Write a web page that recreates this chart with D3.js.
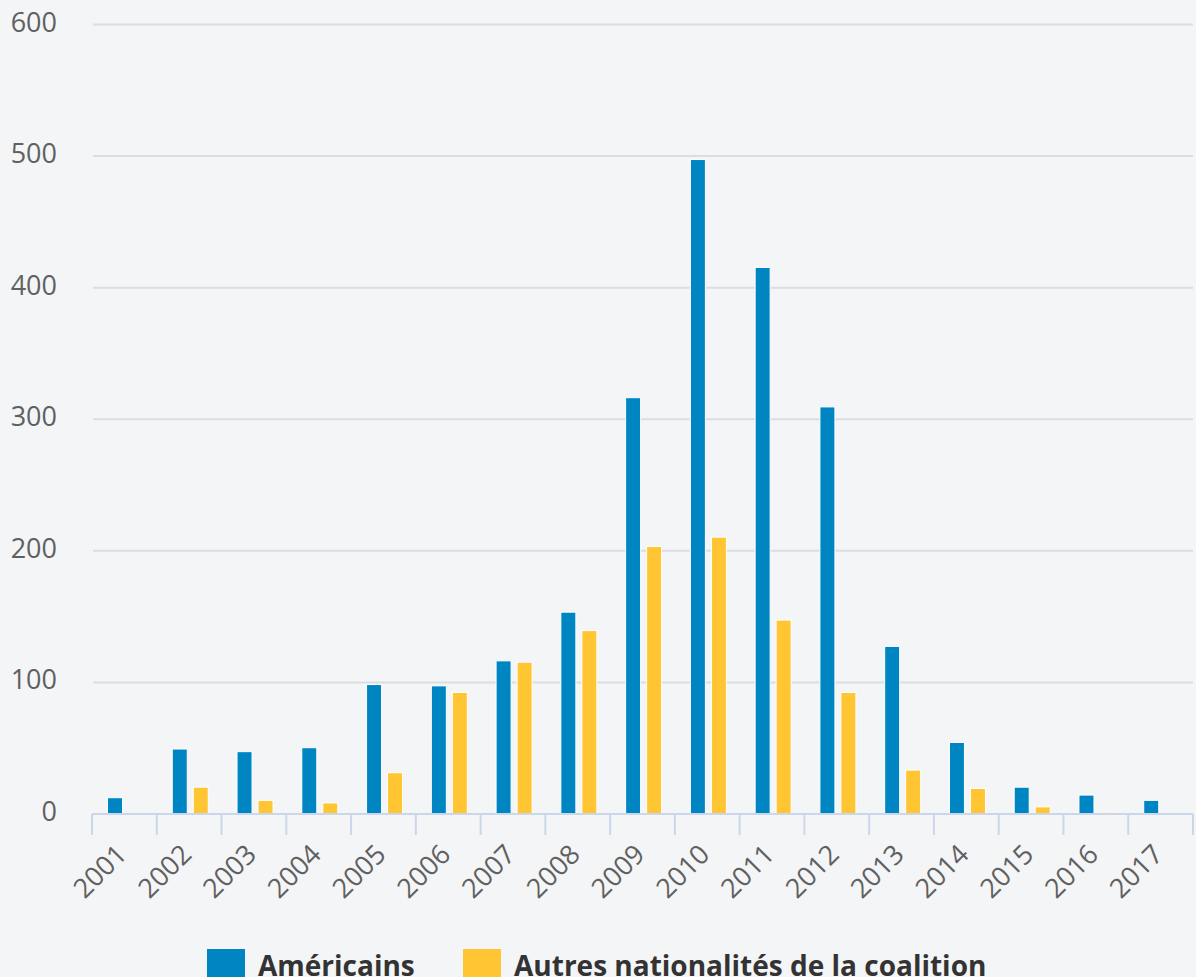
<!DOCTYPE html>
<html>
<head>
<meta charset="utf-8">
<script src="https://cdn.jsdelivr.net/npm/d3@7"></script>
<style>
  html, body { margin: 0; padding: 0; background: #f4f5f7; }
  svg { display: block; font-family: "Open Sans", sans-serif; }
</style>
</head>
<body>
<svg id="chart" width="1196" height="977"></svg>
<script>
const years = ['2001', '2002', '2003', '2004', '2005', '2006', '2007', '2008', '2009',
  '2010', '2011', '2012', '2013', '2014', '2015', '2016', '2017'];
const americans = [12, 49, 47, 50, 98, 97, 116, 153, 316, 497, 415, 309, 127, 54, 20, 14, 10];
const others = [0, 20, 10, 8, 31, 92, 115, 139, 203, 210, 147, 92, 33, 19, 5, 1, 0];
const seriesNames = ['Américains', 'Autres nationalités de la coalition'];
const seriesColors = ['#0085c3', '#ffc533'];
const yTicks = [0, 100, 200, 300, 400, 500, 600];

const svg = d3.select('#chart');
const plotLeft = 92;
const plotRight = 1193;
const plotTop = 24.5;
const plotBottom = 814;

const x = d3.scaleBand().domain(years).range([plotLeft, plotRight]);
const y = d3.scaleLinear().domain([0, 600]).range([plotBottom, plotTop]);

// gridlines
svg.append('g').selectAll('line')
  .data(yTicks.filter(d => d > 0))
  .join('line')
  .attr('x1', plotLeft + 1).attr('x2', plotRight)
  .attr('y1', d => y(d)).attr('y2', d => y(d))
  .attr('stroke', '#dcdde0').attr('stroke-width', 2);

// y labels
svg.append('g').selectAll('text')
  .data(yTicks)
  .join('text')
  .attr('x', 57)
  .attr('y', d => y(d) + 7)
  .attr('text-anchor', 'end')
  .attr('font-size', 27)
  .attr('fill', '#606060')
  .text(d => d);

// bars
const series = [americans, others];
const barW = 15;
const barOffset = [15.5, 36.5];
series.forEach((vals, si) => {
  svg.append('g').selectAll('rect')
    .data(vals.map((v, i) => ({ year: years[i], v })))
    .join('rect')
    .attr('x', d => x(d.year) + barOffset[si])
    .attr('width', barW)
    .attr('y', d => y(d.v) - 0.5)
    .attr('height', d => Math.max(0, plotBottom - y(d.v) + 0.5))
    .attr('fill', seriesColors[si])
    .attr('stroke', '#ffffff')
    .attr('stroke-width', 1);
});

// x axis
const xAxis = svg.append('g');
xAxis.append('line')
  .attr('x1', plotLeft).attr('x2', plotRight)
  .attr('y1', plotBottom).attr('y2', plotBottom)
  .attr('stroke', '#ccd6eb').attr('stroke-width', 2);
xAxis.selectAll('.tick')
  .data(years.concat(['end']))
  .join('line')
  .attr('x1', d => d === 'end' ? plotRight : x(d))
  .attr('x2', d => d === 'end' ? plotRight : x(d))
  .attr('y1', plotBottom).attr('y2', plotBottom + 21)
  .attr('stroke', '#ccd6eb').attr('stroke-width', 2);
xAxis.selectAll('text')
  .data(years)
  .join('text')
  .attr('transform', d => `translate(${x(d) + x.bandwidth() / 2 + 4},${856}) rotate(-45)`)
  .attr('text-anchor', 'end')
  .attr('font-size', 27)
  .attr('fill', '#606060')
  .text(d => d);

// legend
const legendX = [207, 463];
const legend = svg.append('g');
seriesNames.forEach((name, i) => {
  legend.append('rect')
    .attr('x', legendX[i]).attr('y', 949)
    .attr('width', 38).attr('height', 38)
    .attr('fill', seriesColors[i]);
  legend.append('text')
    .attr('x', legendX[i] + 51).attr('y', 976)
    .attr('font-size', 28)
    .attr('font-weight', 'bold')
    .attr('fill', '#333333')
    .text(name);
});
</script>
</body>
</html>
